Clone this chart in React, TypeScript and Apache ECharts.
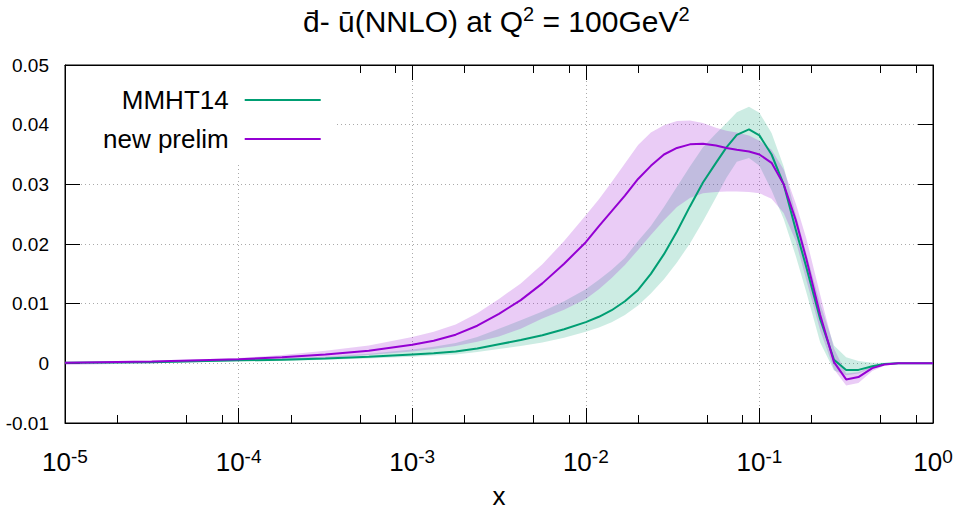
import React, { useEffect, useRef } from 'react';
import * as echarts from 'echarts';

// x values (momentum fraction)
const X = [
  0.00001, 0.0000316, 0.0001, 0.000178, 0.000316, 0.000562, 0.001, 0.00133,
  0.00178, 0.00237, 0.00316, 0.00422, 0.00562, 0.0075, 0.01, 0.0119,
  0.0141, 0.0168, 0.02, 0.0237, 0.0282, 0.0335, 0.0398, 0.0473,
  0.0562, 0.0646, 0.0741, 0.0871, 0.1, 0.1175, 0.138, 0.162,
  0.186, 0.224, 0.269, 0.316, 0.372, 0.447, 0.525, 0.631,
  0.794, 1.0,
];

// MMHT14: central value, upper and lower edge of the uncertainty band
const MMHT_C = [
  0.0001, 0.0002, 0.0005, 0.0006, 0.0008, 0.0011, 0.0015, 0.0017,
  0.0020, 0.0025, 0.0032, 0.0039, 0.0047, 0.0057, 0.0069, 0.0078,
  0.0089, 0.0104, 0.0123, 0.0150, 0.0183, 0.0221, 0.0263, 0.0303,
  0.0336, 0.0362, 0.0383, 0.0392, 0.0382, 0.0350, 0.0300, 0.0224,
  0.0162, 0.0074, 0.0006, -0.0011, -0.0011, -0.0005, -0.0001, 0,
  0, 0,
];
const MMHT_HI = [
  0.0002, 0.0003, 0.0007, 0.0009, 0.0011, 0.0016, 0.0023, 0.0028,
  0.0034, 0.0044, 0.0058, 0.0072, 0.0087, 0.0104, 0.0124, 0.0140,
  0.0157, 0.0177, 0.0205, 0.0230, 0.0262, 0.0296, 0.0330, 0.0362,
  0.0385, 0.0403, 0.0421, 0.0430, 0.0420, 0.0386, 0.0330, 0.0250,
  0.0185, 0.0100, 0.0030, 0.0010, 0.0004, 0.0001, 0.0001, 0.0001,
  0, 0,
];
const MMHT_LO = [
  -0.0001, 0.0001, 0.0003, 0.0004, 0.0006, 0.0008, 0.0011, 0.0013,
  0.0015, 0.0019, 0.0024, 0.0029, 0.0035, 0.0043, 0.0053, 0.0060,
  0.0069, 0.0081, 0.0097, 0.0117, 0.0141, 0.0169, 0.0201, 0.0238,
  0.0278, 0.0311, 0.0338, 0.0344, 0.0331, 0.0290, 0.0242, 0.0180,
  0.0120, 0.0035, -0.0012, -0.0020, -0.0017, -0.0008, -0.0003, -0.0001,
  0, 0,
];

// new prelim: central value, upper and lower edge of the uncertainty band
const NEW_C = [
  0.0001, 0.0003, 0.0007, 0.0010, 0.0015, 0.0021, 0.0031, 0.0038,
  0.0048, 0.0063, 0.0083, 0.0106, 0.0134, 0.0167, 0.0203, 0.0230,
  0.0255, 0.0281, 0.0309, 0.0331, 0.0350, 0.0361, 0.0367, 0.0368,
  0.0365, 0.0361, 0.0358, 0.0355, 0.0350, 0.0336, 0.0300, 0.0240,
  0.0176, 0.0081, 0.0002, -0.0027, -0.0023, -0.0008, -0.0002, 0,
  0, 0,
];
const NEW_HI = [
  0.0002, 0.0004, 0.0009, 0.0014, 0.0021, 0.0030, 0.0044, 0.0053,
  0.0065, 0.0084, 0.0108, 0.0134, 0.0166, 0.0205, 0.0248, 0.0275,
  0.0304, 0.0335, 0.0366, 0.0387, 0.0399, 0.0406, 0.0407, 0.0403,
  0.0395, 0.0390, 0.0387, 0.0382, 0.0373, 0.0358, 0.0325, 0.0268,
  0.0210, 0.0115, 0.0025, -0.0017, -0.0015, -0.0004, 0, 0.0001,
  0, 0,
];
const NEW_LO = [
  -0.0003, 0.0000, 0.0004, 0.0006, 0.0009, 0.0014, 0.0020, 0.0024,
  0.0029, 0.0036, 0.0045, 0.0058, 0.0075, 0.0090, 0.0108, 0.0124,
  0.0143, 0.0165, 0.0190, 0.0215, 0.0240, 0.0262, 0.0277, 0.0285,
  0.0287, 0.0288, 0.0288, 0.0287, 0.0285, 0.0276, 0.0252, 0.0205,
  0.0140, 0.0055, -0.0010, -0.0037, -0.0033, -0.0013, -0.0004, -0.0001,
  0, 0,
];

const MINOR_TICKS = [
  2e-5, 5e-5, 8e-5, 2e-4, 5e-4, 8e-4, 2e-3, 5e-3, 8e-3,
  0.02, 0.05, 0.08, 0.2, 0.5, 0.8,
];

const SERIES_NAMES = ['MMHT14', 'new prelim'];
const TITLE = '{m|d\u0304- u\u0304(NNLO) at Q}{s|2}{m| = 100GeV}{s|2}';
const X_NAME = 'x';

const GREEN = '#009e73';
const PURPLE = '#9400d3';
const FONT = 'Liberation Sans';

function bandSeries(name: string, lo: number[], hi: number[], fill: string) {
  return {
    name,
    type: 'custom',
    silent: true,
    z: 1,
    data: X.map((x, i) => [x, lo[i], hi[i]]),
    encode: { x: 0, y: [1, 2] },
    renderItem: (params: any, api: any) => {
      if (params.dataIndex !== 0) return null;
      const top = X.map((x, i) => api.coord([x, hi[i]]));
      const bottom = X.map((x, i) => api.coord([x, lo[i]])).reverse();
      return {
        type: 'polygon',
        shape: { points: top.concat(bottom) },
        style: { fill, stroke: 'none' },
      };
    },
  };
}

export default function App() {
  const ref = useRef<HTMLDivElement>(null);

  useEffect(() => {
    document.body.style.margin = '0';
    const chart = echarts.init(ref.current!, null, { renderer: 'svg' });

    const pairs = (ys: number[]) => X.map((x, i) => [x, ys[i]]);

    const gridLine = { color: '#aaaaaa', width: 1, type: [1, 3] as any };
    const black = { color: '#000', width: 1 };

    const logBase = {
      type: 'log' as const,
      logBase: 10,
      min: 1e-5,
      max: 1,
      splitNumber: 5,
    };

    const option: any = {
      animation: false,
      textStyle: { fontFamily: FONT },
      title: {
        text: TITLE,
        left: 303,
        top: 4,
        padding: 0,
        textStyle: {
          fontWeight: 'normal',
          rich: {
            m: { fontSize: 30, lineHeight: 32, verticalAlign: 'bottom', color: '#000', fontFamily: FONT, fontWeight: 'normal' },
            s: { fontSize: 20, lineHeight: 20, verticalAlign: 'top', color: '#000', fontFamily: FONT, fontWeight: 'normal' },
          },
        },
      },
      legend: {
        data: SERIES_NAMES.map((n) => ({ name: n, icon: 'rect' })),
        orient: 'vertical',
        align: 'right',
        left: 66,
        top: 66,
        padding: [21, 16, 13, 37],
        itemWidth: 76,
        itemHeight: 2,
        itemGap: 13,
        backgroundColor: '#fff',
        selectedMode: false,
        textStyle: { fontSize: 26, lineHeight: 26, color: '#000', fontFamily: FONT, padding: [0, 11, 0, 0] },
      },
      grid: {
        left: 65,
        right: 23,
        top: 65,
        bottom: 89,
        show: true,
        borderColor: '#000',
        borderWidth: 1,
        backgroundColor: 'transparent',
        outerBoundsMode: 'none',
        containLabel: false,
      },
      xAxis: [
        {
          ...logBase,
          position: 'bottom',
          name: X_NAME,
          nameLocation: 'middle',
          nameGap: 60,
          nameTextStyle: { fontSize: 26, color: '#000', fontFamily: FONT },
          axisLine: { show: true, onZero: false, lineStyle: black },
          axisTick: { show: true, inside: true, length: 15, lineStyle: black },
          axisLabel: {
            show: true,
            margin: 24,
            showMinLabel: true,
            showMaxLabel: true,
            formatter: (v: number) => `{m|10}{s|${Math.round(Math.log10(v))}}`,
            rich: {
              m: { fontSize: 26, lineHeight: 28, verticalAlign: 'bottom', color: '#000', fontFamily: FONT },
              s: { fontSize: 19, lineHeight: 19, verticalAlign: 'top', color: '#000', fontFamily: FONT },
            },
          },
          splitLine: { show: true, lineStyle: gridLine },
        },
        {
          ...logBase,
          position: 'top',
          axisLine: { show: true, onZero: false, lineStyle: black },
          axisTick: { show: true, inside: true, length: 15, lineStyle: black },
          axisLabel: { show: false },
          splitLine: { show: false },
        },
        {
          ...logBase,
          position: 'bottom',
          axisLine: { show: false, onZero: false },
          axisTick: { show: true, inside: true, length: 8, lineStyle: black, customValues: MINOR_TICKS },
          axisLabel: { show: false },
          splitLine: { show: false },
        },
        {
          ...logBase,
          position: 'top',
          axisLine: { show: false, onZero: false },
          axisTick: { show: true, inside: true, length: 8, lineStyle: black, customValues: MINOR_TICKS },
          axisLabel: { show: false },
          splitLine: { show: false },
        },
      ],
      yAxis: [
        {
          type: 'value',
          position: 'left',
          min: -0.01,
          max: 0.05,
          interval: 0.01,
          axisLine: { show: true, onZero: false, lineStyle: black },
          axisTick: { show: true, inside: true, length: 15, lineStyle: black },
          axisLabel: {
            fontSize: 19,
            color: '#000',
            margin: 16,
            fontFamily: FONT,
            formatter: (v: number) => (Math.abs(v) < 1e-9 ? '0' : v.toFixed(2)),
          },
          splitLine: { show: true, lineStyle: gridLine },
        },
        {
          type: 'value',
          position: 'right',
          min: -0.01,
          max: 0.05,
          interval: 0.01,
          axisLine: { show: true, onZero: false, lineStyle: black },
          axisTick: { show: true, inside: true, length: 15, lineStyle: black },
          axisLabel: { show: false },
          splitLine: { show: false },
        },
      ],
      series: [
        bandSeries('mmht_band', MMHT_LO, MMHT_HI, 'rgba(0,158,115,0.2)'),
        bandSeries('new_band', NEW_LO, NEW_HI, 'rgba(148,0,211,0.2)'),
        {
          name: SERIES_NAMES[0],
          type: 'line',
          data: pairs(MMHT_C),
          symbol: 'none',
          z: 3,
          lineStyle: { color: GREEN, width: 2 },
          itemStyle: { color: GREEN },
          emphasis: { disabled: true },
        },
        {
          name: SERIES_NAMES[1],
          type: 'line',
          data: pairs(NEW_C),
          symbol: 'none',
          z: 3,
          lineStyle: { color: PURPLE, width: 2 },
          itemStyle: { color: PURPLE },
          emphasis: { disabled: true },
        },
      ],
    };

    chart.setOption(option);
    return () => chart.dispose();
  }, []);

  return <div ref={ref} style={{ width: 956, height: 512 }} />;
}
